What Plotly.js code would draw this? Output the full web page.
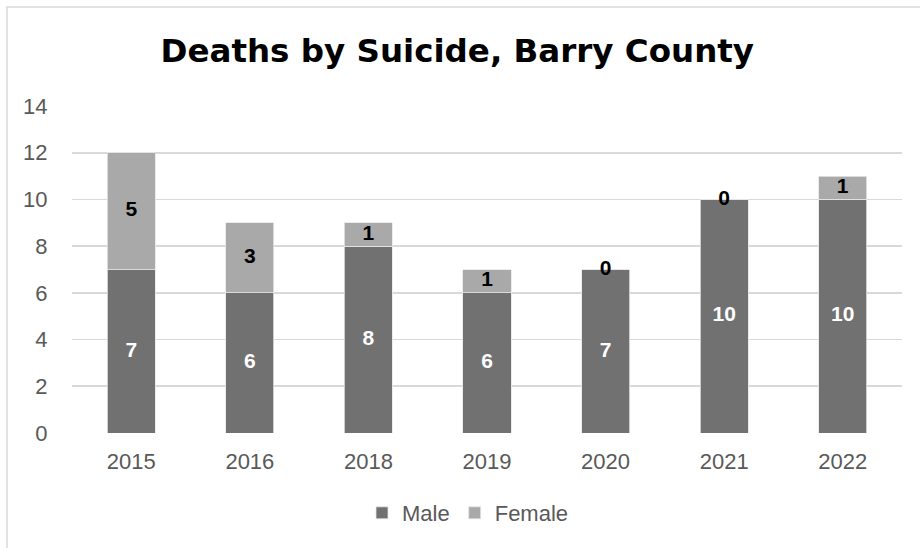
<!DOCTYPE html>
<html>
<head>
<meta charset="utf-8">
<script src="https://cdn.plot.ly/plotly-3.0.1.min.js"></script>
<style>html,body{margin:0;padding:0;background:#fff;}#chart{width:920px;height:548px;}</style>
</head>
<body>
<div id="chart"></div>
<script>
const years = ["2015", "2016", "2018", "2019", "2020", "2021", "2022"];
const male = [7, 6, 8, 6, 7, 10, 10];
const female = [5, 3, 1, 1, 0, 0, 1];
const yTicks = [0, 2, 4, 6, 8, 10, 12, 14];

const maleColor = "#717171";
const femaleColor = "#a9a9a9";
const labelFont = {family: "Liberation Sans, Arial, sans-serif", size: 21, weight: "bold"};
const tickFont = {family: "Liberation Sans, Arial, sans-serif", size: 22, color: "#595959"};

const traces = [
  {type: "bar", name: "Male", x: years, y: male,
   marker: {color: maleColor, line: {color: "#e6e6e6", width: 0.8}}, hoverinfo: "x+y"},
  {type: "bar", name: "Female", x: years, y: female,
   marker: {color: femaleColor, line: {color: "#e6e6e6", width: 0.8}}, hoverinfo: "x+y"},
  {type: "scatter", mode: "text", showlegend: false, hoverinfo: "skip",
   x: years, y: male.map(v => v / 2), text: male.map(String),
   textfont: Object.assign({color: "#ffffff"}, labelFont)},
  {type: "scatter", mode: "text", showlegend: false, hoverinfo: "skip",
   x: years, y: male.map((v, i) => v + female[i] / 2), text: female.map(String),
   textfont: Object.assign({color: "#000000"}, labelFont)}
];

const L = 72, R = 902, T = 106, B = 433;
const layout = {
  width: 920, height: 548,
  margin: {l: L, r: 920 - R, t: T, b: 548 - B},
  paper_bgcolor: "#ffffff", plot_bgcolor: "#ffffff",
  barmode: "stack", bargap: 0.595,
  title: {text: "<b>Deaths by Suicide, Barry County</b>", x: 0.497, xanchor: "center",
          y: 1 - 51 / 548, yanchor: "middle",
          font: {family: "DejaVu Sans, sans-serif", size: 32.5, color: "#000000"}},
  xaxis: {type: "category", showgrid: false, zeroline: false, showline: false,
          ticks: "outside", ticklen: 9, tickcolor: "rgba(0,0,0,0)", tickfont: tickFont},
  yaxis: {range: [0, 14], tickvals: yTicks, showgrid: true, gridcolor: "#d9d9d9", gridwidth: 1.8,
          zeroline: false, showline: false,
          ticks: "outside", ticklen: 19, tickcolor: "rgba(0,0,0,0)", tickfont: tickFont},
  showlegend: true,
  legend: {orientation: "h", x: (468 - L) / (R - L), xanchor: "center",
           y: (B - 513) / (B - T), yanchor: "middle",
           font: tickFont, itemwidth: 30, traceorder: "normal"},
  shapes: [{type: "rect", xref: "paper", yref: "paper",
            x0: (7 - L) / (R - L), x1: (935 - L) / (R - L),
            y0: (B - 570) / (B - T), y1: (B - 7) / (B - T),
            line: {color: "#d9d9d9", width: 1.5}, fillcolor: "rgba(0,0,0,0)", layer: "below"}]
};

Plotly.newPlot("chart", traces, layout, {displayModeBar: false, staticPlot: true});
</script>
</body>
</html>
